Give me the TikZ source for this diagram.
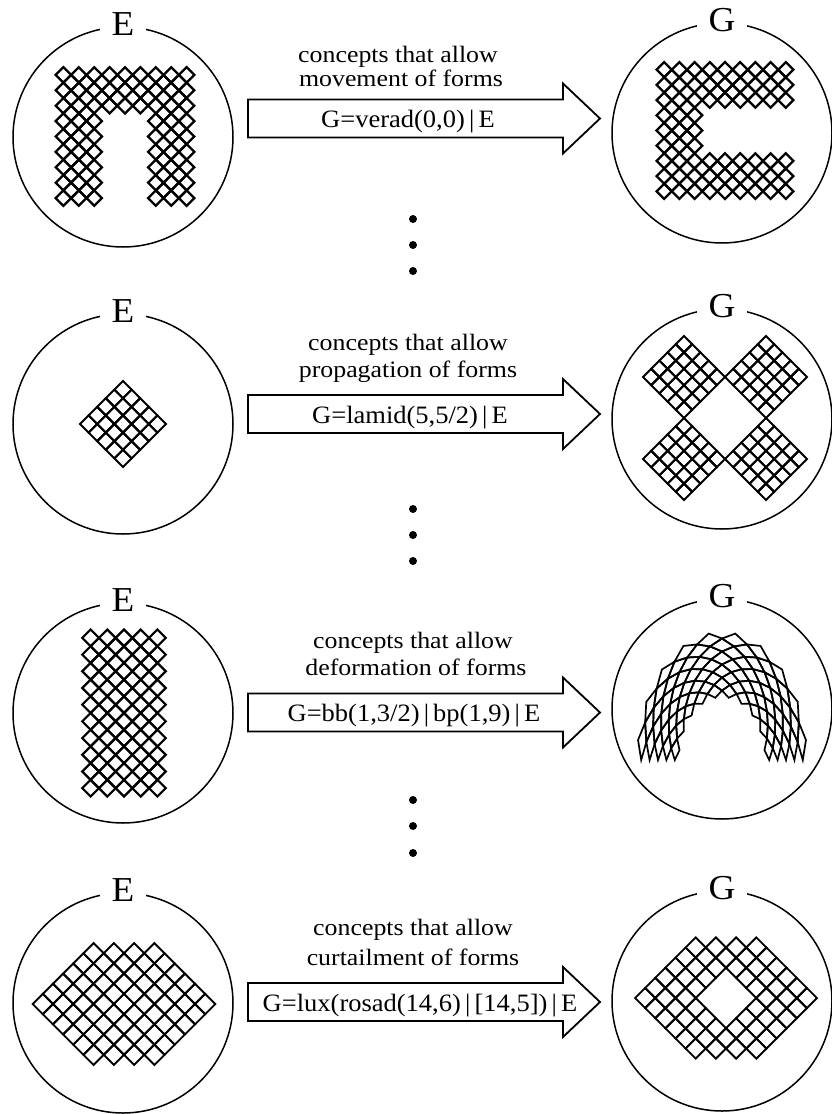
\documentclass[tikz,border=0pt]{standalone}
\usepackage{fontspec}
\setmainfont{Liberation Serif}[FakeStretch=1.06]
\newfontfamily\capfont{Liberation Serif}[FakeStretch=1.1]
\newcommand\dm[2]{\draw ({#1-1},{#2}) -- ({#1},{#2-1}) -- ({#1+1},{#2}) -- ({#1},{#2+1}) -- cycle;}
\newcommand\archv[3]{%
 \pgfmathsetmacro\archU{(#2)/10}%
 \pgfmathsetmacro\archT{180-9*(#3)}%
 \pgfmathsetmacro\archX{722+(43+42*\archU)*cos(\archT)}%
 \pgfmathsetmacro\archY{760-(63+65*\archU)*sin(\archT)}%
 \coordinate (#1) at (\archX,\archY);}
\newcommand\blkarrow[2]{\draw[blk] (248,{#1-19}) coordinate (#2-tl) -- (563,{#1-19}) -- (563,{#1-35}) -- (600,#1) coordinate (#2-tip) -- (563,{#1+35}) -- (563,{#1+19}) -- (248,{#1+19}) -- cycle;}
\begin{document}
\begin{tikzpicture}[x=1pt,y=-1pt,
 ring/.style={circle, draw, line width=1.5pt, minimum size=220pt, inner sep=0pt},
 letter/.style={fill=white, inner xsep=12pt, inner ysep=3pt, font=\fontsize{35}{40}\selectfont},
 caption/.style={anchor=base, inner sep=0pt, font=\capfont\fontsize{23.5}{27}\selectfont},
 formula/.style={anchor=base, inner sep=0pt, font=\fontsize{25}{30}\selectfont},
 blk/.style={draw, line width=1.8pt, line join=miter},
 dotnode/.style={circle, fill, minimum size=8pt, inner sep=0pt}]
\useasboundingbox (0,0) rectangle (831,1114);

% circles
\node[ring] (e1) at (123,137) {};
\node[ring] (g1) at (722,133) {};
\node[ring] (e2) at (123,424) {};
\node[ring] (g2) at (722,419) {};
\node[ring] (e3) at (123,713) {};
\node[ring] (g3) at (722,709) {};
\node[ring] (e4) at (123,1003) {};
\node[ring] (g4) at (722,1001) {};

% row 1 patterns: n and C
\begin{scope}[shift={(125,136.5)},x=7.7pt,y=-7.7pt,line width=2.3pt]
\foreach \p in {1,...,17}{\foreach \q in {1,...,17}{
 \pgfmathtruncatemacro\ok{and(iseven(\p+\q), or(or(\p<6,\p>12),\q<6))}
 \ifnum\ok=1 \dm{\p-9}{\q-9}\fi}}
\end{scope}
\begin{scope}[shift={(725,130.5)},x=7.6pt,y=-7.6pt,line width=2.3pt]
\foreach \p in {1,...,17}{\foreach \q in {1,...,17}{
 \pgfmathtruncatemacro\ok{and(iseven(\p+\q), or(or(\q<6,\q>12),\p<6))}
 \ifnum\ok=1 \dm{\p-9}{\q-9}\fi}}
\end{scope}

% row 2 patterns
\begin{scope}[shift={(123,424)},x=8.6pt,y=-8.6pt,line width=2pt]
\foreach \p in {-4,...,4}{\foreach \q in {-4,...,4}{
 \pgfmathtruncatemacro\ok{and(iseven(\p+\q+10), abs(\p)+abs(\q)<5)}
 \ifnum\ok=1 \dm{\p}{\q}\fi}}
\end{scope}
\foreach \sx/\sy in {-41/-41,41/-41,-41/41,41/41}{
\begin{scope}[shift={(725+\sx,418+\sy)},x=8.2pt,y=-8.2pt,line width=2pt]
\foreach \p in {-4,...,4}{\foreach \q in {-4,...,4}{
 \pgfmathtruncatemacro\ok{and(iseven(\p+\q+10), abs(\p)+abs(\q)<5)}
 \ifnum\ok=1 \dm{\p}{\q}\fi}}
\end{scope}}

% row 3 patterns
\begin{scope}[shift={(124,713)},x=8.35pt,y=-8.35pt,line width=2.2pt]
\foreach \p in {1,...,9}{\foreach \q in {1,...,19}{
 \pgfmathtruncatemacro\ok{iseven(\p+\q)}
 \ifnum\ok=1 \dm{\p-5}{\q-10}\fi}}
\end{scope}
\begin{scope}[line width=1.7pt]
\foreach \p in {1,...,9}{\foreach \q in {1,...,19}{
 \pgfmathtruncatemacro\ok{iseven(\p+\q)}
 \ifnum\ok=1
  \archv{ca}{\p-1}{\q}\archv{cb}{\p}{\q-1}\archv{cc}{\p+1}{\q}\archv{cd}{\p}{\q+1}
  \draw (ca) -- (cb) -- (cc) -- (cd) -- cycle;
 \fi}}
\end{scope}

% row 4 patterns
\begin{scope}[shift={(124,1004)},x=10.15pt,y=-10.15pt,line width=1.9pt]
\foreach \p in {-5,...,11}{\foreach \q in {0,...,10}{
 \pgfmathtruncatemacro\ok{and(iseven(\p+\q+20), max(0,0-(\p),\p-6)+abs(\q-5)<6)}
 \ifnum\ok=1 \dm{\p-3}{\q-5}\fi}}
\end{scope}
\begin{scope}[shift={(726,998)},x=10.1pt,y=-10.1pt,line width=1.9pt]
\foreach \p in {-5,...,11}{\foreach \q in {0,...,10}{
 \pgfmathtruncatemacro\ok{and(and(iseven(\p+\q+20), max(0,0-(\p),\p-6)+abs(\q-5)<6), abs(\p-3)+abs(\q-5)>2)}
 \ifnum\ok=1 \dm{\p-3}{\q-5}\fi}}
\end{scope}

% circle letters
\foreach \r in {1,2,3,4}{
 \node[letter] (le\r) at ([yshift=2pt]e\r.north) {E};
 \node[letter] (lg\r) at ([yshift=2pt]g\r.north) {G};
}

% arrows
\blkarrow{118.5}{a1}
\blkarrow{414}{a2}
\blkarrow{712.5}{a3}
\blkarrow{1002}{a4}

% captions
\node[caption] (c1a) at (398,62.5) {concepts that allow};
\node[caption] (c1b) at (401,86.5) {movement of forms};
\node[formula] (f1) at (408,127.5) {G=verad(0,0)\,|\,E};

\node[caption] (c2a) at (408,350) {concepts that allow};
\node[caption] (c2b) at (408,377) {propagation of forms};
\node[formula] (f2) at (410,423) {G=lamid(5,5/2)\,|\,E};

\node[caption] (c3a) at (413,648) {concepts that allow};
\node[caption] (c3b) at (416,675) {deformation of forms};
\node[formula] (f3) at (414,721.5) {G=bb(1,3/2)\,|\,bp(1,9)\,|\,E};

\node[caption] (c4a) at (413,935) {concepts that allow};
\node[caption] (c4b) at (413,965) {curtailment of forms};
\node[formula] (f4) at (420,1011.5) {G=lux(rosad(14,6)\,|\,[14,5])\,|\,E};

% dots
\foreach \y [count=\i] in {219,245,271,509,535,561,800,826,853}{
 \node[dotnode] (dot\i) at (413,\y) {};
}
\end{tikzpicture}
\end{document}
